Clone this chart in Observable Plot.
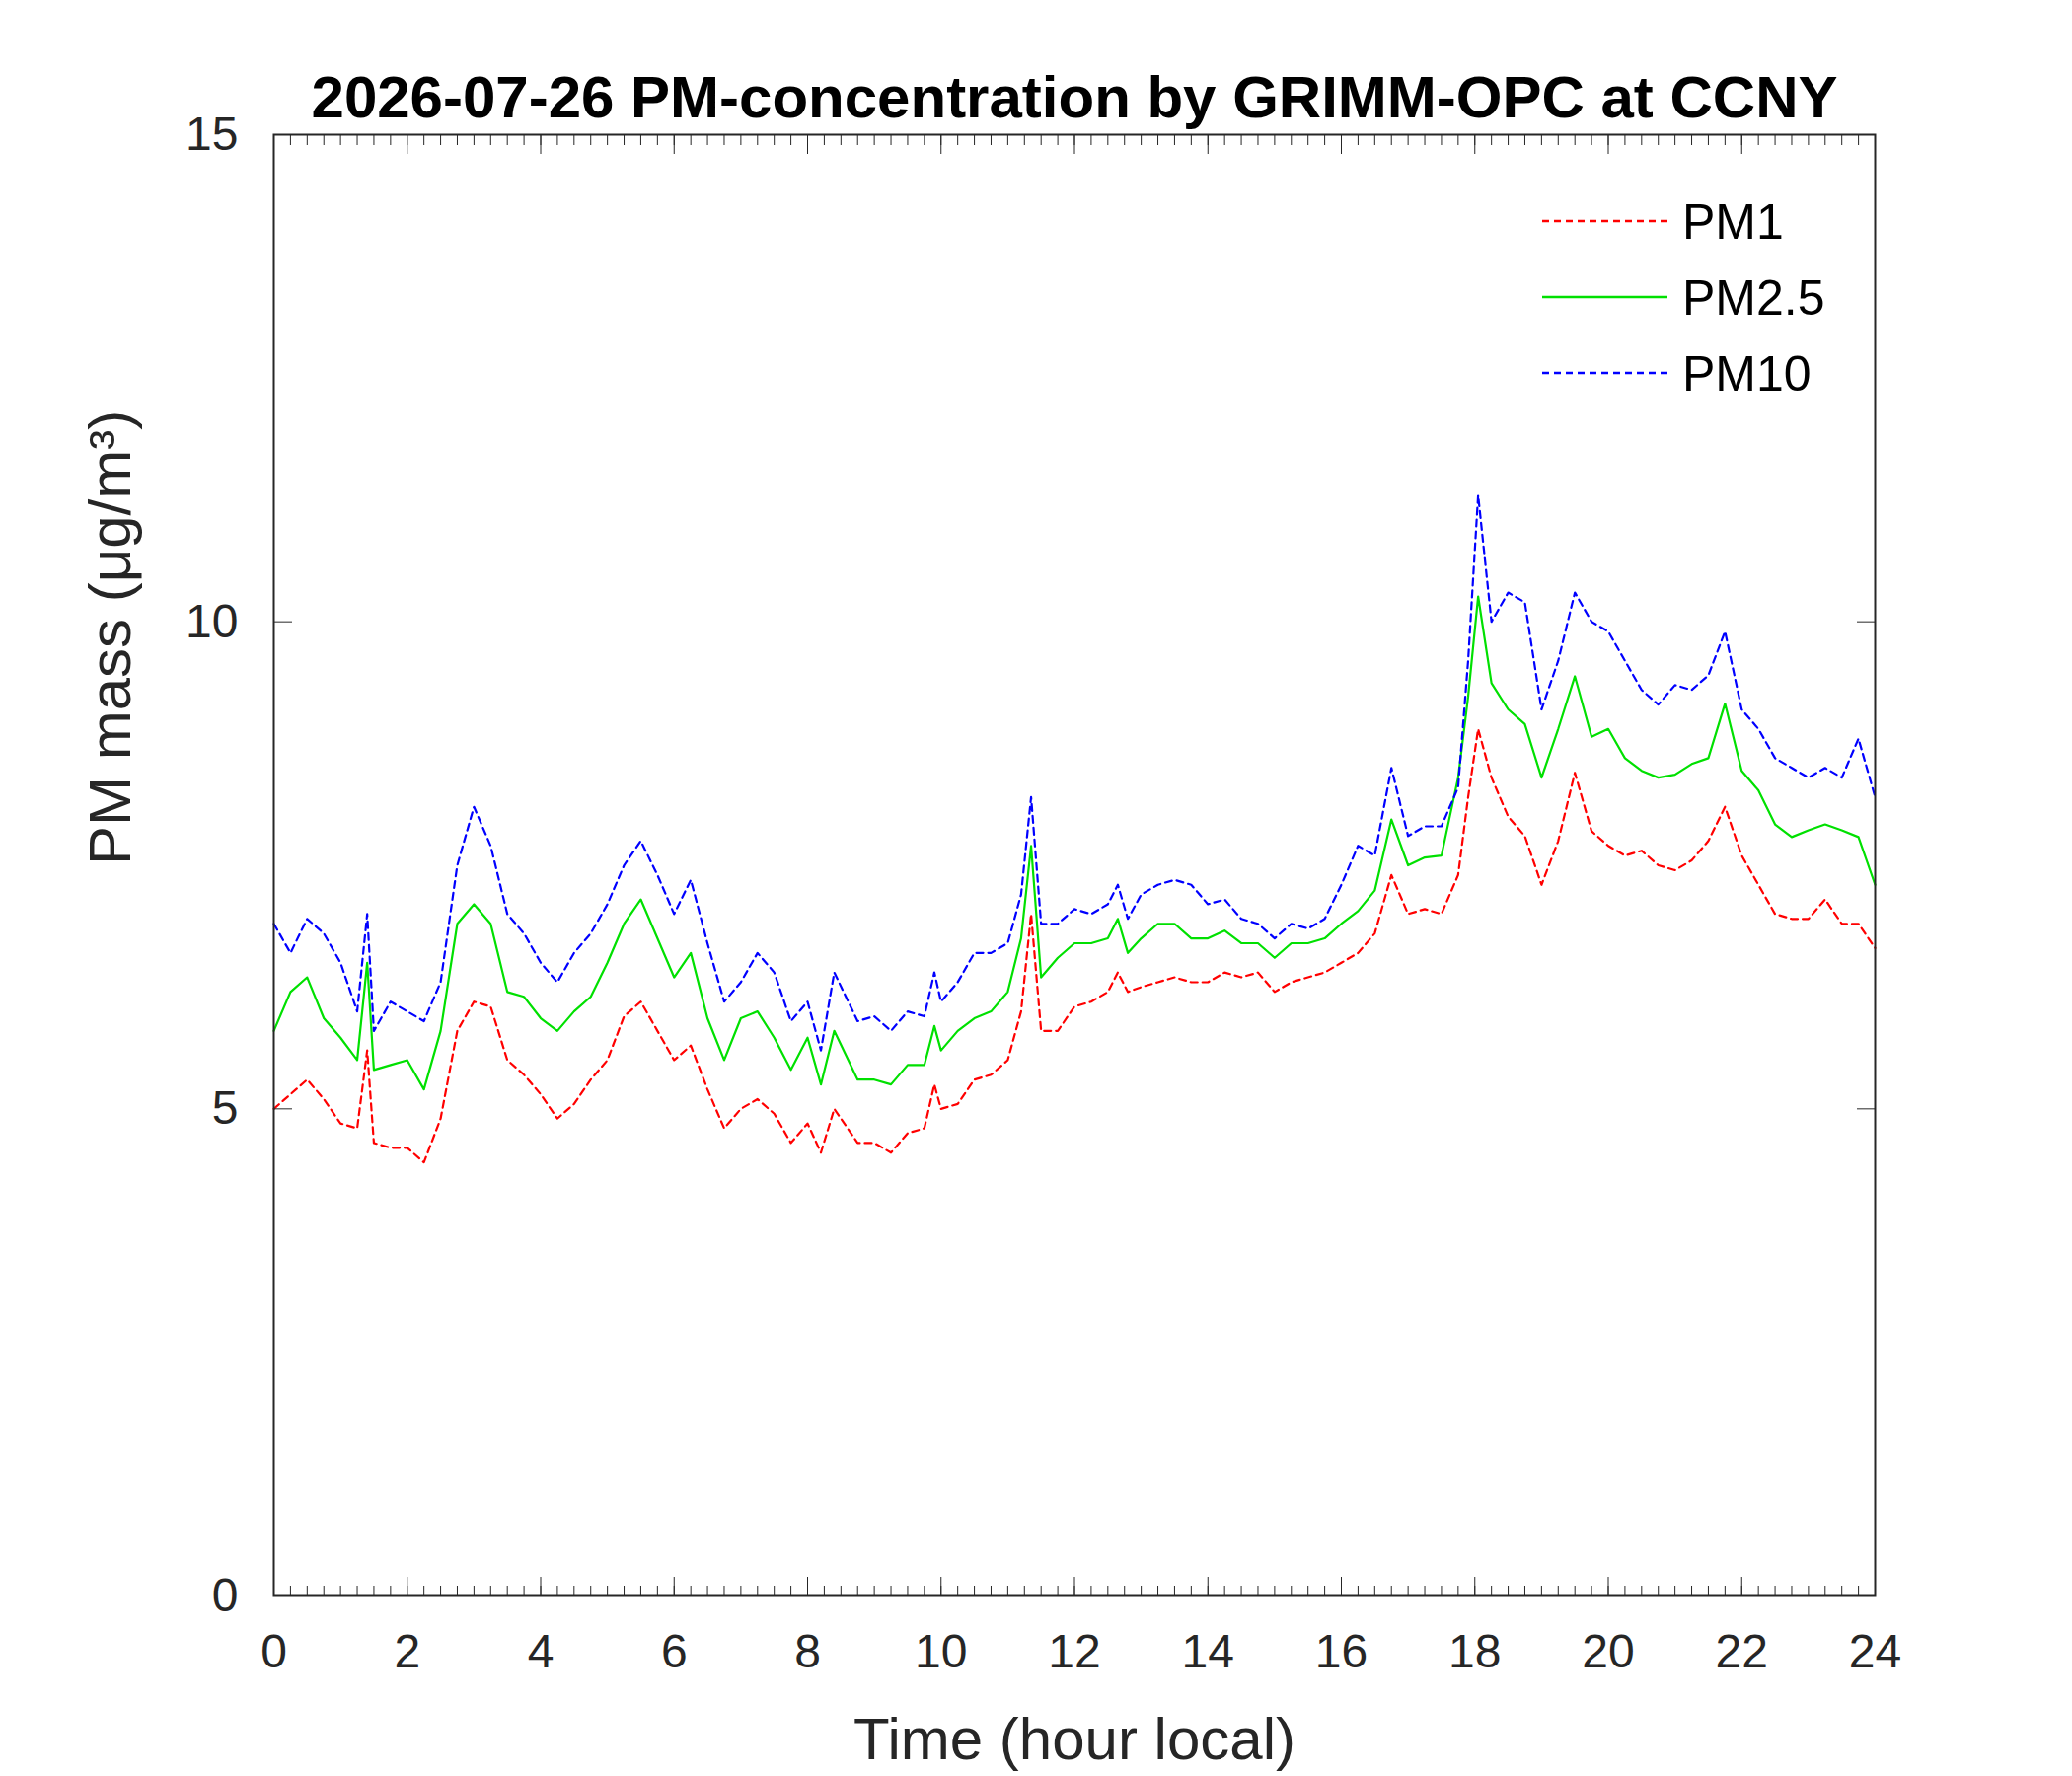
<!DOCTYPE html>
<html><head><meta charset="utf-8">
<script src="https://cdn.jsdelivr.net/npm/d3@7"></script>
<script src="https://cdn.jsdelivr.net/npm/@observablehq/plot@0.6"></script>
<style>body{margin:0;background:#fff}#c{position:relative;width:2100px;height:1800px}</style>
</head><body><div id="c"></div>
<script>
const hours = [0,.25,.5,.75,1,1.25,1.4,1.5,1.75,2,2.25,2.5,2.75,3,3.25,3.5,3.75,4,4.25,4.5,4.75,5,5.25,5.5,5.75,6,6.25,6.5,6.75,7,7.25,7.5,7.75,8,8.2,8.4,8.75,9,9.25,9.5,9.75,9.9,10,10.25,10.5,10.75,11,11.2,11.35,11.5,11.75,12,12.25,12.5,12.65,12.8,13,13.25,13.5,13.75,14,14.25,14.5,14.75,15,15.25,15.5,15.75,16,16.25,16.5,16.75,17,17.25,17.5,17.75,17.9,18.05,18.25,18.5,18.75,19,19.25,19.5,19.75,20,20.25,20.5,20.75,21,21.25,21.5,21.75,22,22.25,22.5,22.75,23,23.25,23.5,23.75,24];
const pm1 = [5.0,5.15,5.3,5.1,4.85,4.8,5.6,4.65,4.6,4.6,4.45,4.9,5.8,6.1,6.05,5.5,5.35,5.15,4.9,5.05,5.3,5.5,5.95,6.1,5.8,5.5,5.65,5.2,4.8,5.0,5.1,4.95,4.65,4.85,4.55,5.0,4.65,4.65,4.55,4.75,4.8,5.25,5.0,5.05,5.3,5.35,5.5,6.0,7.0,5.8,5.8,6.05,6.1,6.2,6.4,6.2,6.25,6.3,6.35,6.3,6.3,6.4,6.35,6.4,6.2,6.3,6.35,6.4,6.5,6.6,6.8,7.4,7.0,7.05,7.0,7.4,8.2,8.9,8.4,8.0,7.8,7.3,7.75,8.45,7.85,7.7,7.6,7.65,7.5,7.45,7.55,7.75,8.1,7.6,7.3,7.0,6.95,6.95,7.15,6.9,6.9,6.65];
const pm25 = [5.8,6.2,6.35,5.93,5.73,5.5,6.5,5.4,5.45,5.5,5.2,5.8,6.9,7.1,6.9,6.2,6.15,5.93,5.8,6.0,6.15,6.5,6.9,7.15,6.75,6.35,6.6,5.93,5.5,5.93,6.0,5.73,5.4,5.73,5.25,5.8,5.3,5.3,5.25,5.45,5.45,5.85,5.6,5.8,5.93,6.0,6.2,6.75,7.7,6.35,6.55,6.7,6.7,6.75,6.95,6.6,6.75,6.9,6.9,6.75,6.75,6.83,6.7,6.7,6.55,6.7,6.7,6.75,6.9,7.03,7.24,7.97,7.5,7.58,7.6,8.4,9.23,10.26,9.37,9.1,8.95,8.4,8.9,9.44,8.82,8.9,8.6,8.47,8.4,8.43,8.54,8.6,9.16,8.47,8.27,7.92,7.79,7.86,7.92,7.86,7.79,7.3];
const pm10 = [6.9,6.6,6.95,6.8,6.5,6.0,7.0,5.8,6.1,6.0,5.9,6.3,7.5,8.1,7.7,7.0,6.8,6.5,6.3,6.6,6.8,7.1,7.5,7.75,7.4,7.0,7.35,6.7,6.1,6.3,6.6,6.4,5.9,6.1,5.6,6.4,5.9,5.95,5.8,6.0,5.95,6.4,6.1,6.3,6.6,6.6,6.7,7.2,8.2,6.9,6.9,7.05,7.0,7.1,7.3,6.95,7.2,7.3,7.35,7.3,7.1,7.15,6.95,6.9,6.75,6.9,6.85,6.95,7.3,7.7,7.6,8.5,7.8,7.9,7.9,8.3,9.6,11.3,10.0,10.3,10.2,9.1,9.6,10.3,10.0,9.9,9.6,9.3,9.15,9.35,9.3,9.45,9.9,9.1,8.9,8.6,8.5,8.4,8.5,8.4,8.8,8.2];
const seriesNames = ["PM1","PM2.5","PM10"];
const seriesColors = ["#ff0000","#00e000","#0000ff"];
const seriesDash = ["7,5",null,"7,5"];
const xTicks = d3.range(0,25,2);
const yTicks = [0,5,10,15];
const title = "2026-07-26 PM-concentration by GRIMM-OPC at CCNY";

const allSeries = [pm1,pm25,pm10];
const font = "Liberation Sans, Arial, sans-serif";
const minor = d3.range(0,24.001,0.25);
const marks = [];
allSeries.forEach((vals,i)=>{
  const d = hours.map((h,j)=>({h,v:vals[j]}));
  marks.push(Plot.line(d,{x:"h",y:"v",stroke:seriesColors[i],strokeWidth:2.2,strokeDasharray:seriesDash[i]}));
});
marks.push(
  Plot.frame({stroke:"#262626",strokeWidth:2}),
  Plot.axisX(minor,{anchor:"bottom",tickSize:-10,text:null,label:null,stroke:"#262626"}),
  Plot.axisX(minor,{anchor:"top",tickSize:-10,text:null,label:null,stroke:"#262626"}),
  Plot.axisX(xTicks,{anchor:"bottom",tickSize:-19,stroke:"#262626",text:null,label:null}),
  Plot.axisX(xTicks,{anchor:"top",tickSize:-19,stroke:"#262626",text:null,label:null}),
  Plot.axisX(xTicks,{anchor:"bottom",tickSize:0,tickPadding:38,fontSize:48,fill:"#262626",label:null,tickFormat:"d"}),
  Plot.axisY(yTicks,{anchor:"left",tickSize:-19,stroke:"#262626",text:null,label:null}),
  Plot.axisY(yTicks,{anchor:"right",tickSize:-19,stroke:"#262626",text:null,label:null}),
  Plot.axisY(yTicks,{anchor:"left",tickSize:0,tickPadding:36,fontSize:48,fill:"#262626",label:null,tickFormat:"d"}),
  Plot.text([title],{frameAnchor:"top",dy:-60,fontSize:60,fontWeight:"bold",fill:"#000",text:d=>d}),
  Plot.text(["Time (hour local)"],{frameAnchor:"bottom",dy:165,fontSize:60,fill:"#262626",text:d=>d}),
  Plot.text(["PM mass (μg/m³)"],{frameAnchor:"left",dx:-165,rotate:-90,fontSize:60,fill:"#262626",text:d=>d})
);
const chart = Plot.plot({
  width:2100,height:1800,marginLeft:277,marginRight:200,marginTop:136,marginBottom:183,
  style:{fontFamily:font,overflow:"visible"},
  x:{domain:[0,24],axis:null},
  y:{domain:[0,15],axis:null},
  marks
});
const c = document.getElementById("c");
c.appendChild(chart);
const lg = d3.select(c).append("svg").attr("width",2100).attr("height",1800)
  .style("position","absolute").style("left",0).style("top",0).style("pointer-events","none");
seriesNames.forEach((n,i)=>{
  const y = 224 + i*77;
  lg.append("line").attr("x1",1563).attr("x2",1690).attr("y1",y).attr("y2",y)
    .attr("stroke",seriesColors[i]).attr("stroke-width",2.5).attr("stroke-dasharray",seriesDash[i]);
  lg.append("text").attr("x",1705).attr("y",y).attr("dy","0.35em").attr("font-size",50)
    .attr("font-family",font).attr("fill","#000").text(n);
});
</script></body></html>
